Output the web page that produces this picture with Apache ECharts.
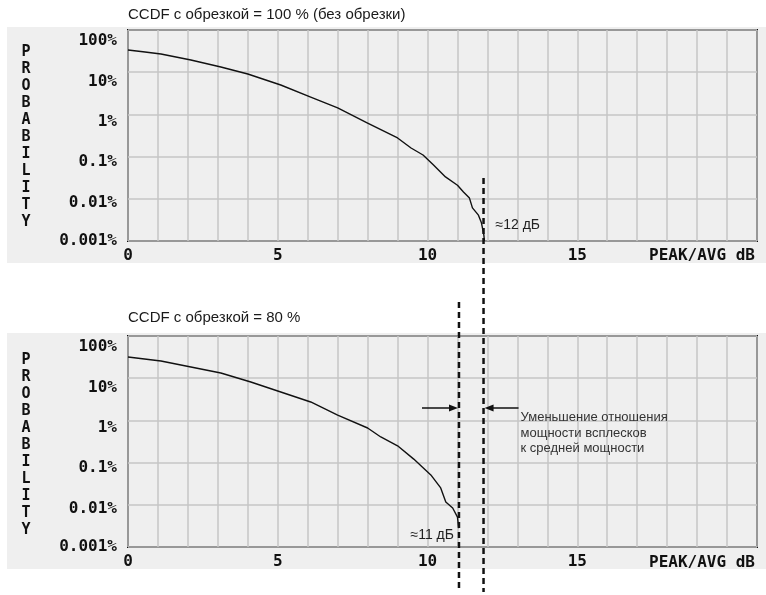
<!DOCTYPE html>
<html><head><meta charset="utf-8">
<script src="https://cdn.jsdelivr.net/npm/echarts@6/dist/echarts.min.js"></script>
<style>html,body{margin:0;padding:0;background:#fff}#c{width:766px;height:595px}</style>
</head><body><div id="c"></div>
<script>
// ---- data ----
const titles = ['CCDF с обрезкой = 100 % (без обрезки)', 'CCDF с обрезкой = 80 %'];
const xTickValues = [0, 5, 10, 15];
const xTickLabels = ['0', '5', '10', '15'];
const yTickLabels = ['0.001%', '0.01%', '0.1%', '1%', '10%', '100%'];
const xAxisTitle = 'PEAK/AVG dB';
const yAxisTitle = 'PROBABILITY';

// CCDF without clipping (dB, %)
const topX = [0, 0.5, 1.1, 2.1, 3.1, 4.0, 5.1, 6.1, 7.0, 8.0, 9.0, 9.45, 9.85, 10.2, 10.6, 11.0, 11.2, 11.4, 11.5, 11.7, 11.8, 11.88, 11.9];
const topP = [33.6, 30.5, 27, 19.5, 13.3, 9.06, 4.97, 2.58, 1.42, 0.625, 0.276, 0.16, 0.109, 0.063, 0.033, 0.021, 0.0145, 0.0104, 0.0061, 0.0041, 0.0027, 0.0014, 0.001];
// CCDF with 80 % clipping (dB, %)
const botX = [0, 1.1, 2.1, 3.1, 4.1, 5.1, 6.1, 7.0, 8.0, 8.44, 9.0, 9.54, 10.11, 10.44, 10.61, 10.84, 11.0, 11.04];
const botP = [31.8, 25.6, 18.4, 13.3, 8.13, 4.71, 2.73, 1.34, 0.661, 0.405, 0.25, 0.121, 0.0511, 0.0251, 0.0117, 0.0084, 0.0051, 0.0028];

const peakTop = 11.87;     // ≈12 dB
const peakBottom = 11.05;  // ≈11 dB
const noteTop = '≈12 дБ';
const noteBottom = '≈11 дБ';
const reductionNote = 'Уменьшение отношения\nмощности всплесков\nк средней мощности';

// ---- styles ----
const MONO = '"DejaVu Sans Mono", "Liberation Mono", monospace';
const SANS = '"Liberation Sans", Arial, sans-serif';
const yLabelShift = [0, 4, 5, 7, 10, 11];
const rich = {};
yLabelShift.forEach((s, i) => {
  rich['s' + i] = { padding: [2 * s, 0, 0, 0], fontFamily: MONO, fontWeight: 'bold', fontSize: 16, color: '#111' };
});

const chart = echarts.init(document.getElementById('c'), null, { renderer: 'canvas' });

function grid(top) {
  return { left: 128, top: top, width: 629, height: 211, show: true, backgroundColor: 'transparent',
           borderColor: '#111', borderWidth: 2, containLabel: false };
}
function xAxis(i) {
  return {
    type: 'value', gridIndex: i, min: 0, max: 21, interval: 1,
    axisLine: { show: false }, axisTick: { show: false },
    splitLine: { show: true, lineStyle: { color: '#c6c6c6', width: 1.5 } },
    axisLabel: {
      margin: 7, color: '#111', fontFamily: MONO, fontWeight: 'bold', fontSize: 16,
      formatter: v => { const k = xTickValues.indexOf(Math.round(v)); return (k >= 0 && Math.abs(v - Math.round(v)) < 1e-6) ? xTickLabels[k] : ''; }
    }
  };
}
function yAxis(i) {
  return {
    type: 'log', logBase: 10, gridIndex: i, min: 0.001, max: 100, splitNumber: 5,
    axisLine: { show: false }, axisTick: { show: false },
    splitLine: { show: true, lineStyle: { color: '#c6c6c6', width: 1.5 } },
    axisLabel: {
      margin: 11, color: '#111', fontFamily: MONO, fontWeight: 'bold', fontSize: 16, rich: rich,
      formatter: v => { const k = Math.round(Math.log10(v)) + 3; return '{s' + k + '|' + yTickLabels[k] + '}'; }
    }
  };
}
function zip(xs, ys) { return xs.map((x, i) => [x, ys[i]]); }

chart.setOption({
  animation: false,
  backgroundColor: '#ffffff',
  grid: [grid(30), grid(336)],
  xAxis: [xAxis(0), xAxis(1)],
  yAxis: [yAxis(0), yAxis(1)],
  series: [
    { type: 'line', xAxisIndex: 0, yAxisIndex: 0, data: zip(topX, topP), showSymbol: false, lineStyle: { color: '#111', width: 1.4 }, z: 5 },
    { type: 'line', xAxisIndex: 1, yAxisIndex: 1, data: zip(botX, botP), showSymbol: false, lineStyle: { color: '#111', width: 1.4 }, z: 5 }
  ]
});

const xA = chart.convertToPixel({ xAxisIndex: 0 }, peakTop);
const xB = chart.convertToPixel({ xAxisIndex: 1 }, peakBottom);
const dash = { stroke: '#111', lineWidth: 2.5, lineDash: [6, 4] };
const ink = '#111';
const g = [];
// grey panels
g.push({ type: 'rect', z: -10, silent: true, shape: { x: 7, y: 27, width: 759, height: 236 }, style: { fill: '#efefef' } });
g.push({ type: 'rect', z: -10, silent: true, shape: { x: 7, y: 333, width: 759, height: 236 }, style: { fill: '#efefef' } });
// titles
g.push({ type: 'text', x: 128, y: 15, style: { text: titles[0], font: '15px ' + SANS, fill: '#1a1a1a', verticalAlign: 'middle' } });
g.push({ type: 'text', x: 128, y: 318, style: { text: titles[1], font: '15px ' + SANS, fill: '#1a1a1a', verticalAlign: 'middle' } });
// axis titles
[44, 352].forEach(y => {
  g.push({ type: 'text', x: 26, y: y, style: { text: yAxisTitle.split('').join('\n'), font: 'bold 15px ' + MONO, fill: ink, align: 'center', verticalAlign: 'top', lineHeight: 17 } });
});
[256, 563].forEach(y => {
  g.push({ type: 'text', x: 755, y: y, style: { text: xAxisTitle, font: 'bold 16px ' + MONO, fill: ink, align: 'right', verticalAlign: 'middle' } });
});
// dashed lines
g.push({ type: 'line', z: 20, shape: { x1: xA, y1: 178, x2: xA, y2: 592 }, style: dash });
g.push({ type: 'line', z: 20, shape: { x1: xB, y1: 302, x2: xB, y2: 592 }, style: dash });
// notes
g.push({ type: 'text', z: 20, x: xA + 12, y: 225, style: { text: noteTop, font: '14px ' + SANS, fill: '#222', verticalAlign: 'middle' } });
g.push({ type: 'text', z: 20, x: xB - 5, y: 535, style: { text: noteBottom, font: '14px ' + SANS, fill: '#222', align: 'right', verticalAlign: 'middle' } });
g.push({ type: 'text', z: 20, x: xA + 37, y: 410, style: { text: reductionNote, font: '13px ' + SANS, fill: '#333', verticalAlign: 'top', lineHeight: 15.5 } });
// arrows
const ay = 408;
g.push({ type: 'line', z: 20, shape: { x1: 422, y1: ay, x2: xB - 8, y2: ay }, style: { stroke: ink, lineWidth: 1.5 } });
g.push({ type: 'polygon', z: 20, shape: { points: [[xB - 1, ay], [xB - 10, ay - 3.5], [xB - 10, ay + 3.5]] }, style: { fill: ink } });
g.push({ type: 'line', z: 20, shape: { x1: xA + 35, y1: ay, x2: xA + 8, y2: ay }, style: { stroke: ink, lineWidth: 1.5 } });
g.push({ type: 'polygon', z: 20, shape: { points: [[xA + 1, ay], [xA + 10, ay - 3.5], [xA + 10, ay + 3.5]] }, style: { fill: ink } });

chart.setOption({ graphic: g });
</script>
</body></html>
